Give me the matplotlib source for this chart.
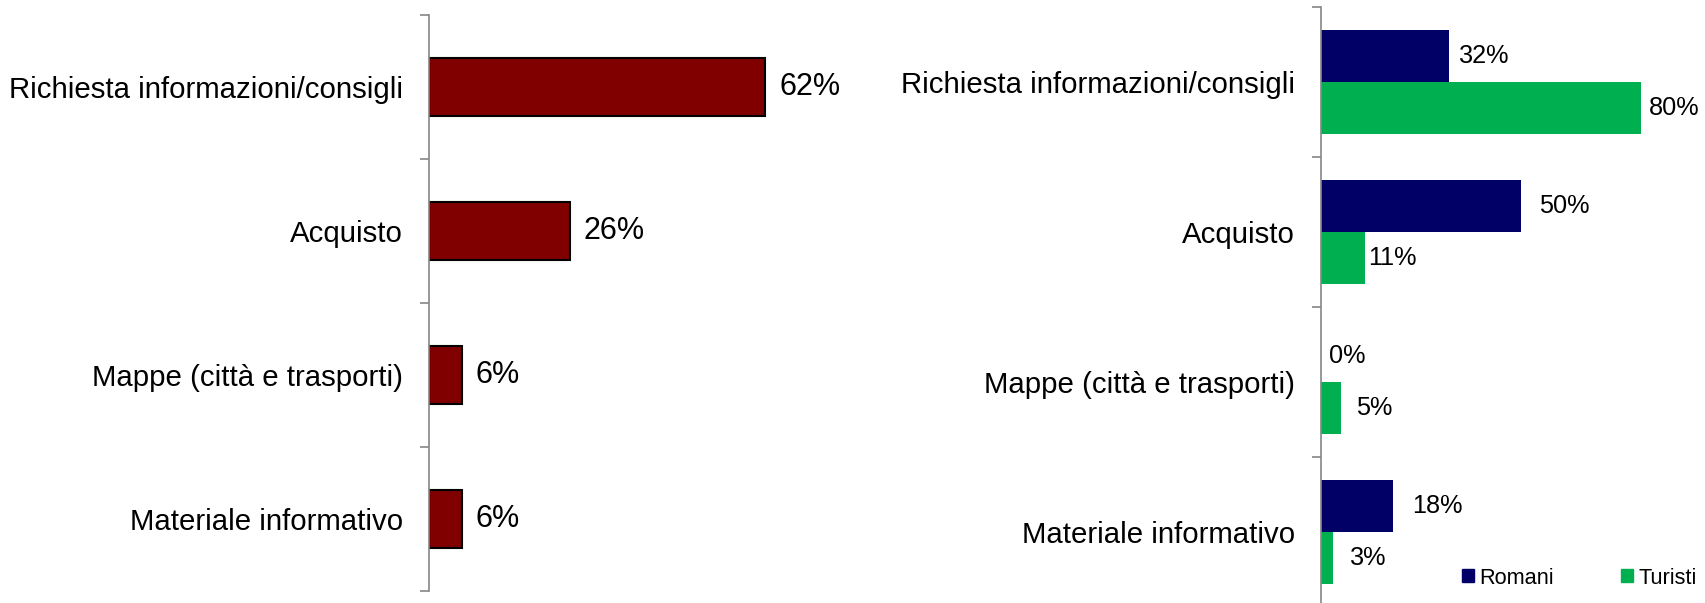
import matplotlib.pyplot as plt
from matplotlib.patches import Patch

plt.rcParams['font.family'] = ['Liberation Sans', 'DejaVu Sans']

categories = ['Richiesta informazioni/consigli', 'Acquisto',
              'Mappe (città e trasporti)', 'Materiale informativo']
totale = [62, 26, 6, 6]
romani = [32, 50, 0, 18]
turisti = [80, 11, 5, 3]

# label offsets (points) to the right of each bar end, right panel
romani_off = [7, 13, 6, 14]
turisti_off = [6, 2, 11, 12]

W, H = 1706, 603
fig = plt.figure(figsize=(W / 100, H / 100), dpi=100)


def px_axes(left, top, right, bottom):
    return fig.add_axes([left / W, (H - bottom) / H, (right - left) / W, (bottom - top) / H])


def style_axis(ax, n):
    for side in ('top', 'right', 'bottom'):
        ax.spines[side].set_visible(False)
    ax.spines['left'].set_color('#868686')
    ax.spines['left'].set_linewidth(1.2)
    ax.set_ylim(n, 0)
    ax.set_yticks([i + 0.5 for i in range(n)])
    ax.set_yticklabels(categories, fontsize=21.2)
    ax.set_yticks(range(n + 1), minor=True)
    ax.tick_params(axis='y', which='major', length=0, pad=18.5)
    ax.tick_params(axis='y', which='minor', length=6.5, width=1.2, color='#868686')
    ax.set_xticks([])


# left panel: total
ax1 = px_axes(429, 15, 814, 591)
y = [i + 0.5 for i in range(len(categories))]
ax1.barh(y, totale, height=0.40, color='#800000', edgecolor='black', linewidth=1.5)
ax1.set_xlim(0, 71)
style_axis(ax1, len(categories))
for yi, v in zip(y, totale):
    ax1.annotate(f'{v}%', (v, yi), xytext=(10, 0), textcoords='offset points',
                 va='center', ha='left', fontsize=22)

# right panel: Romani vs Turisti
ax2 = px_axes(1321, 7, 1705, 607)
h = 0.347
y_r = [i + 0.5 - h / 2 for i in range(len(categories))]
y_t = [i + 0.5 + h / 2 for i in range(len(categories))]
ax2.barh(y_r, romani, height=h, color='#000066')
ax2.barh(y_t, turisti, height=h, color='#00B050')
ax2.set_xlim(0, 96)
style_axis(ax2, len(categories))
for yi, v, o in zip(y_r, romani, romani_off):
    ax2.annotate(f'{v}%', (v, yi), xytext=(o, 0), textcoords='offset points',
                 va='center', ha='left', fontsize=18.2)
for yi, v, o in zip(y_t, turisti, turisti_off):
    ax2.annotate(f'{v}%', (v, yi), xytext=(o, 0), textcoords='offset points',
                 va='center', ha='left', fontsize=18.2)

handles = [Patch(color='#000066', label='Romani'), Patch(color='#00B050', label='Turisti')]
fig.legend(handles=handles, loc='center right', bbox_to_anchor=(1 - 9 / W, 25 / H), ncol=2,
           frameon=False, fontsize=15.7, handlelength=0.55, handleheight=0.55,
           handletextpad=0.25, columnspacing=3.1, borderaxespad=0, borderpad=0)

fig.savefig('out.png', dpi=100)
